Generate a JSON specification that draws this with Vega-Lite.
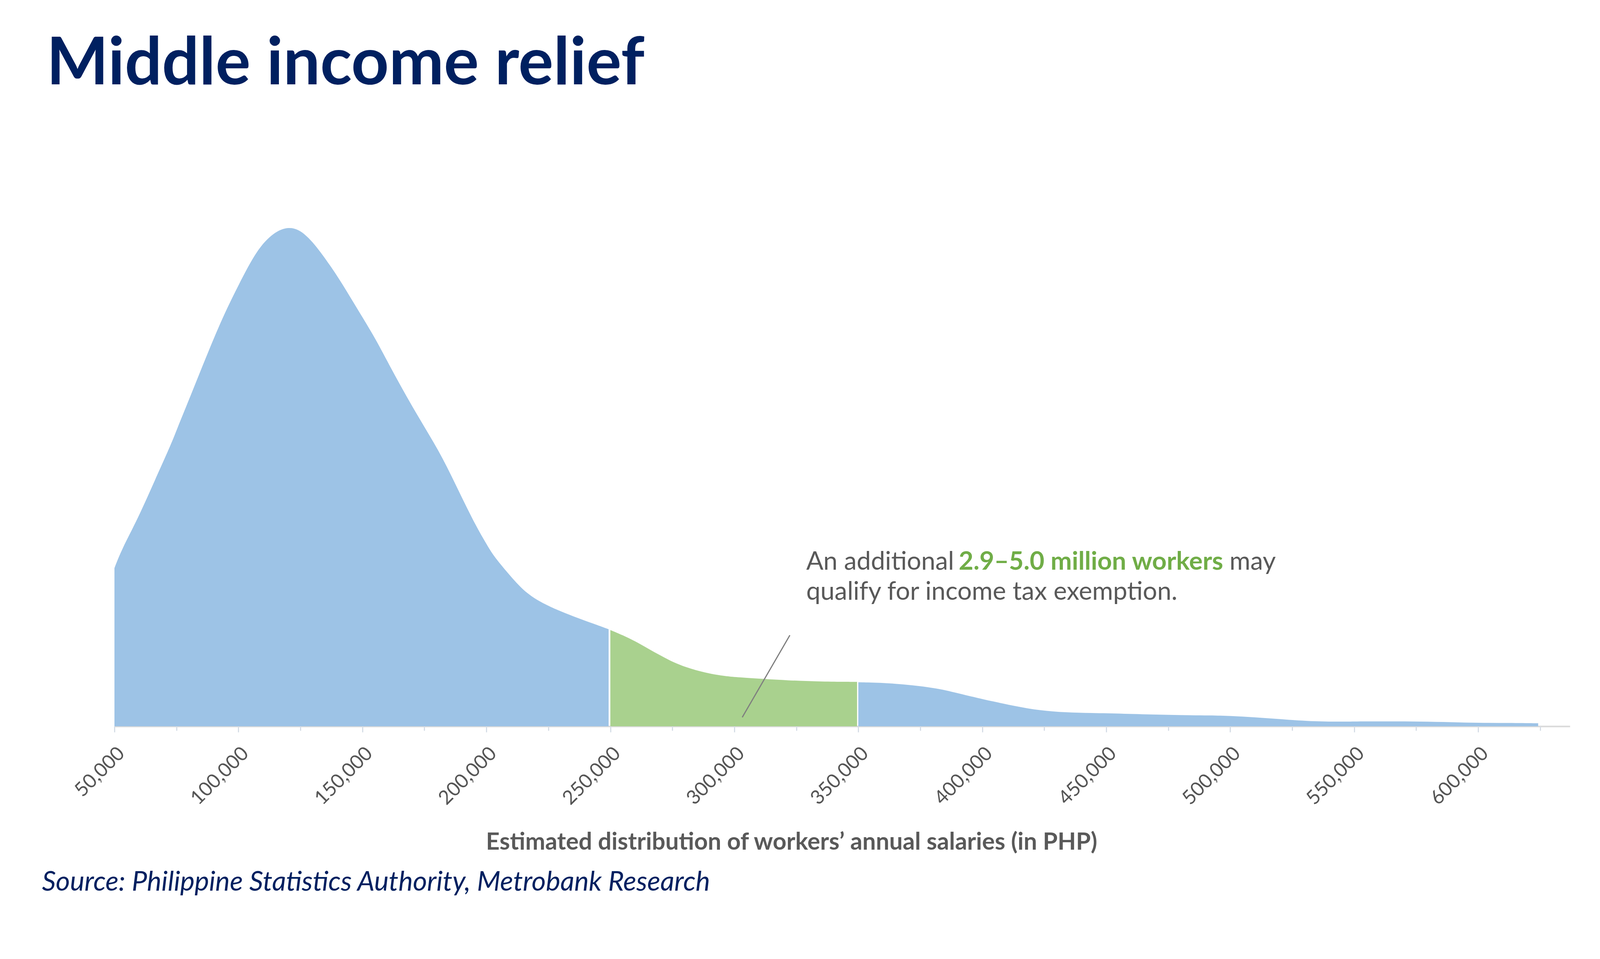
{
  "$schema": "https://vega.github.io/schema/vega-lite/v6.json",
  "description": "Estimated distribution of workers' annual salaries, with the newly exempt band highlighted",
  "width": 3726,
  "height": 1338,
  "autosize": {"type": "none"},
  "padding": {"left": 293, "top": 522, "right": 77, "bottom": 488},
  "background": "white",
  "config": {"view": {"stroke": null}, "font": "Lato"},
  "title": {
    "text": "Middle income relief",
    "anchor": "start",
    "frame": "group",
    "dx": -174,
    "offset": 138,
    "baseline": "alphabetic",
    "fontSize": 168,
    "fontWeight": "bold",
    "font": "Lato",
    "color": "#002060"
  },
  "datasets": {
    "salaries": [
      {"salary": 50000, "density": 424, "band": "below"},
      {"salary": 52700, "density": 471, "band": "below"},
      {"salary": 59500, "density": 557, "band": "below"},
      {"salary": 66400, "density": 661, "band": "below"},
      {"salary": 73200, "density": 761, "band": "below"},
      {"salary": 75000, "density": 793, "band": "below"},
      {"salary": 80000, "density": 874, "band": "below"},
      {"salary": 86800, "density": 987, "band": "below"},
      {"salary": 93600, "density": 1096, "band": "below"},
      {"salary": 100000, "density": 1182, "band": "below"},
      {"salary": 107400, "density": 1277, "band": "below"},
      {"salary": 114200, "density": 1324, "band": "below"},
      {"salary": 120200, "density": 1339, "band": "below"},
      {"salary": 125000, "density": 1330, "band": "below"},
      {"salary": 130500, "density": 1295, "band": "below"},
      {"salary": 137300, "density": 1232, "band": "below"},
      {"salary": 141400, "density": 1191, "band": "below"},
      {"salary": 150000, "density": 1096, "band": "below"},
      {"salary": 155000, "density": 1042, "band": "below"},
      {"salary": 161800, "density": 956, "band": "below"},
      {"salary": 168600, "density": 874, "band": "below"},
      {"salary": 175000, "density": 802, "band": "below"},
      {"salary": 182400, "density": 720, "band": "below"},
      {"salary": 189200, "density": 625, "band": "below"},
      {"salary": 196000, "density": 534, "band": "below"},
      {"salary": 200000, "density": 489, "band": "below"},
      {"salary": 202800, "density": 457, "band": "below"},
      {"salary": 209600, "density": 403, "band": "below"},
      {"salary": 216400, "density": 353, "band": "below"},
      {"salary": 225000, "density": 322, "band": "below"},
      {"salary": 230000, "density": 308, "band": "below"},
      {"salary": 236800, "density": 290, "band": "below"},
      {"salary": 243600, "density": 274, "band": "below"},
      {"salary": 249300, "density": 260, "band": "below"},
      {"salary": 250000, "density": 258, "band": "relief"},
      {"salary": 255000, "density": 244, "band": "relief"},
      {"salary": 260000, "density": 228, "band": "relief"},
      {"salary": 265000, "density": 209, "band": "relief"},
      {"salary": 270400, "density": 189, "band": "relief"},
      {"salary": 275500, "density": 171, "band": "relief"},
      {"salary": 280600, "density": 158, "band": "relief"},
      {"salary": 285700, "density": 148, "band": "relief"},
      {"salary": 290800, "density": 140, "band": "relief"},
      {"salary": 295900, "density": 135, "band": "relief"},
      {"salary": 300000, "density": 132, "band": "relief"},
      {"salary": 308700, "density": 128, "band": "relief"},
      {"salary": 321400, "density": 123, "band": "relief"},
      {"salary": 334000, "density": 120, "band": "relief"},
      {"salary": 344400, "density": 119, "band": "relief"},
      {"salary": 349500, "density": 119, "band": "relief"},
      {"salary": 350000, "density": 118, "band": "above"},
      {"salary": 359700, "density": 117, "band": "above"},
      {"salary": 372400, "density": 110, "band": "above"},
      {"salary": 382700, "density": 101, "band": "above"},
      {"salary": 392900, "density": 84, "band": "above"},
      {"salary": 400000, "density": 73, "band": "above"},
      {"salary": 408200, "density": 61, "band": "above"},
      {"salary": 418400, "density": 47, "band": "above"},
      {"salary": 428600, "density": 39, "band": "above"},
      {"salary": 438800, "density": 36, "band": "above"},
      {"salary": 450000, "density": 35, "band": "above"},
      {"salary": 464300, "density": 32, "band": "above"},
      {"salary": 479600, "density": 30, "band": "above"},
      {"salary": 492300, "density": 29, "band": "above"},
      {"salary": 500000, "density": 28, "band": "above"},
      {"salary": 510200, "density": 24, "band": "above"},
      {"salary": 520400, "density": 19, "band": "above"},
      {"salary": 530600, "density": 14, "band": "above"},
      {"salary": 543400, "density": 12, "band": "above"},
      {"salary": 550000, "density": 13, "band": "above"},
      {"salary": 563800, "density": 13, "band": "above"},
      {"salary": 576500, "density": 13, "band": "above"},
      {"salary": 589300, "density": 11, "band": "above"},
      {"salary": 600000, "density": 9, "band": "above"},
      {"salary": 612200, "density": 9, "band": "above"},
      {"salary": 624200, "density": 8, "band": "above"}
    ]
  },
  "layer": [
    {
      "data": {"name": "salaries"},
      "mark": {"type": "area", "interpolate": "basis"},
      "encoding": {
        "x": {
          "field": "salary",
          "type": "quantitative",
          "scale": {"domain": [50000, 637000], "nice": false, "zero": false},
          "axis": {
            "orient": "bottom",
            "values": [50000, 100000, 150000, 200000, 250000, 300000, 350000, 400000, 450000, 500000, 550000, 600000],
            "format": ",d",
            "grid": false,
            "labelAngle": -45,
            "labelFont": "Lato",
            "labelFontSize": 50,
            "labelColor": "#555555",
            "labelPadding": 29,
            "labelLimit": 0,
            "tickSize": 15,
            "tickWidth": 3,
            "tickColor": "#d6dde6",
            "domainColor": "#d9d9d9",
            "domainWidth": 4,
            "title": "Estimated distribution of workers’ annual salaries (in PHP)",
            "titleFont": "Lato",
            "titleFontSize": 61,
            "titleFontWeight": "bold",
            "titleColor": "#595959",
            "titleX": 1733,
            "titleY": 315,
            "titleAlign": "center",
            "titleBaseline": "alphabetic"
          }
        },
        "y": {
          "field": "density",
          "type": "quantitative",
          "stack": null,
          "scale": {"domain": [0, 1400]},
          "axis": null
        },
        "color": {
          "field": "band",
          "type": "nominal",
          "scale": {"domain": ["below", "relief", "above"], "range": ["#9dc3e6", "#a9d18e", "#9dc3e6"]},
          "legend": null
        }
      }
    },
    {
      "data": {"values": [{}]},
      "mark": {"type": "rule", "color": "#7f7f7f", "strokeWidth": 3},
      "encoding": {
        "x": {
          "datum": 322400,
          "type": "quantitative",
          "scale": {"domain": [50000, 637000], "nice": false, "zero": false},
          "axis": {
            "orient": "bottom",
            "values": [50000, 75000, 100000, 125000, 150000, 175000, 200000, 225000, 250000, 275000, 300000, 325000, 350000, 375000, 400000, 425000, 450000, 475000, 500000, 525000, 550000, 575000, 600000, 625000],
            "labels": false,
            "domain": false,
            "grid": false,
            "tickSize": 11,
            "tickWidth": 3,
            "tickColor": "#d6dde6",
            "title": "Source: Philippine Statistics Authority, Metrobank Research",
            "titleFont": "Lato",
            "titleFontSize": 70,
            "titleFontStyle": "italic",
            "titleFontWeight": "normal",
            "titleColor": "#002060",
            "titleX": -186,
            "titleY": 420,
            "titleAlign": "left",
            "titleBaseline": "alphabetic"
          }
        },
        "x2": {"datum": 303200},
        "y": {"datum": 244, "type": "quantitative", "scale": {"domain": [0, 1400]}, "axis": null},
        "y2": {"datum": 24}
      }
    },
    {
      "data": {"values": [{}]},
      "mark": {"type": "text", "text": "An additional", "align": "left", "baseline": "alphabetic", "font": "Lato", "fontSize": 65, "color": "#595959"},
      "encoding": {
        "x": {"datum": 329000, "type": "quantitative", "scale": {"domain": [50000, 637000], "nice": false, "zero": false}, "axis": null},
        "y": {"datum": 420, "type": "quantitative", "scale": {"domain": [0, 1400]}, "axis": null}
      }
    },
    {
      "data": {"values": [{}]},
      "mark": {"type": "text", "text": "2.9–5.0 million workers", "align": "left", "baseline": "alphabetic", "font": "Lato", "fontSize": 65, "fontWeight": "bold", "color": "#70ad47"},
      "encoding": {
        "x": {"datum": 390500, "type": "quantitative", "scale": {"domain": [50000, 637000], "nice": false, "zero": false}, "axis": null},
        "y": {"datum": 420, "type": "quantitative", "scale": {"domain": [0, 1400]}, "axis": null}
      }
    },
    {
      "data": {"values": [{}]},
      "mark": {"type": "text", "text": "may", "align": "left", "baseline": "alphabetic", "font": "Lato", "fontSize": 65, "color": "#595959"},
      "encoding": {
        "x": {"datum": 499700, "type": "quantitative", "scale": {"domain": [50000, 637000], "nice": false, "zero": false}, "axis": null},
        "y": {"datum": 420, "type": "quantitative", "scale": {"domain": [0, 1400]}, "axis": null}
      }
    },
    {
      "data": {"values": [{}]},
      "mark": {"type": "text", "text": "qualify for income tax exemption.", "align": "left", "baseline": "alphabetic", "font": "Lato", "fontSize": 65, "color": "#595959"},
      "encoding": {
        "x": {"datum": 329000, "type": "quantitative", "scale": {"domain": [50000, 637000], "nice": false, "zero": false}, "axis": null},
        "y": {"datum": 339, "type": "quantitative", "scale": {"domain": [0, 1400]}, "axis": null}
      }
    }
  ],
  "resolve": {"axis": {"x": "independent"}}
}
